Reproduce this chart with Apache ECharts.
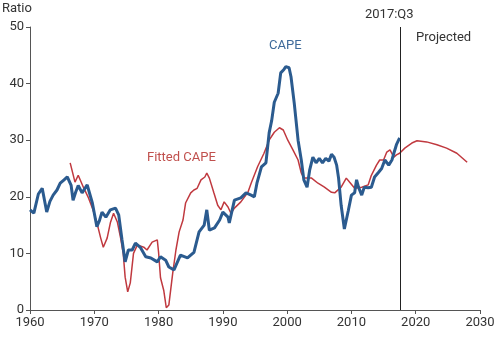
<!DOCTYPE html>
<html>
<head>
<meta charset="utf-8">
<script src="https://cdn.jsdelivr.net/npm/echarts@6/dist/echarts.min.js"></script>
<style>html,body{margin:0;padding:0;background:#fff}#c{width:500px;height:337px}</style>
</head>
<body>
<div id="c"></div>
<script>
const xTicks = [1960, 1970, 1980, 1990, 2000, 2010, 2020, 2030];
const yTicks = [0, 10, 20, 30, 40, 50];
const cutoffYear = 2017.625;

const capeYears = [1960,1960.6,1961.3,1961.9,1962.6,1963.1,1963.6,1964.2,1964.7,1965.3,1965.8,1966,1966.4,1966.7,1967.1,1967.5,1968.1,1968.9,1969.3,1969.7,1970.4,1970.8,1971.2,1971.8,1972.5,1973.3,1973.8,1974.3,1974.8,1975.3,1975.9,1976.4,1977.2,1978,1978.8,1979.8,1980.3,1981.1,1981.6,1982.4,1983.4,1984.5,1985.5,1986.3,1987.1,1987.5,1987.9,1988.7,1989.5,1990,1990.8,1991,1991.8,1992.8,1993.6,1994.4,1994.9,1995.3,1996,1996.7,1997.2,1997.6,1998,1998.6,1999,1999.5,1999.8,2000.3,2000.6,2001.1,2001.7,2002.2,2002.6,2003.1,2003.5,2004,2004.5,2005,2005.5,2006,2006.5,2006.9,2007.3,2007.7,2008,2008.4,2008.9,2009.5,2010,2010.5,2010.8,2011.1,2011.6,2012,2012.6,2013.1,2013.6,2014.2,2014.7,2015.2,2015.8,2016.3,2016.6,2017,2017.5];
const capeValues = [17.7,17.1,20.5,21.5,17.3,19.2,20.3,21.2,22.4,23.0,23.5,23.8,22.0,19.4,20.8,22.0,20.7,22.1,20.5,18.9,14.7,15.8,17.3,16.4,17.7,18.0,16.8,12.5,8.5,10.6,10.6,11.8,11.0,9.4,9.2,8.5,9.4,8.8,7.6,7.1,9.7,9.2,10.2,13.8,15.0,17.7,14.1,14.5,15.9,17.3,16.4,15.4,19.4,19.8,20.7,20.3,20.0,22.4,25.3,26.0,31.3,33.5,36.7,38.3,41.9,42.5,43.0,42.8,41.2,36.6,30.0,26.5,23.0,21.7,24.7,27.0,26.0,26.8,26.0,26.8,26.3,27.5,27.0,25.6,23.3,18.5,14.3,17.5,20.3,20.7,23.0,21.7,20.3,21.7,21.6,21.7,23.5,24.3,25.0,26.5,25.6,26.5,27.7,29.2,30.4];

const fitYears = [1966.25,1967,1967.5,1967.8,1968.3,1969.1,1969.8,1970.5,1971,1971.4,1972,1972.5,1973,1973.6,1974.1,1974.5,1974.8,1975.2,1975.6,1976.1,1976.7,1977.7,1978.2,1979,1979.8,1980,1980.3,1980.8,1981.2,1981.6,1982.2,1982.7,1983.2,1983.8,1984.2,1985,1985.5,1986,1986.6,1987.2,1987.5,1987.9,1988.6,1989.2,1989.7,1990.2,1990.8,1991.25,1991.8,1992.8,1993.9,1994.4,1995.4,1996.4,1997.2,1998,1998.8,1999.4,2000.1,2000.9,2001.7,2002.2,2002.6,2003.8,2004.8,2005.8,2006.9,2007.4,2008.4,2009.2,2009.7,2010.5,2011.6,2012.6,2013.1,2013.9,2014.4,2015,2015.5,2016,2016.6,2017,2017.5,2018.3,2019.4,2020.2,2021.7,2023.3,2024.8,2026.4,2028];
const fitValues = [26.0,22.6,23.8,23.5,21.7,19.8,17.7,15.0,12.7,11.1,12.7,15.4,17.1,15.5,12.7,10.0,5.8,3.2,4.8,10.0,11.5,11.1,10.6,12.0,12.4,10.2,5.7,3.5,0.4,0.9,6.5,10.6,13.8,15.9,18.9,20.7,21.2,21.5,23.0,23.5,24.2,23.3,20.7,18.5,17.7,19.1,18.2,17.1,18.0,19.1,20.8,22.4,25.3,27.7,30.0,31.4,32.2,31.8,30.0,28.3,26.5,24.2,23.3,23.3,22.4,21.7,20.8,20.7,21.7,23.3,22.6,21.5,21.7,22.1,23.8,25.6,26.5,26.5,27.9,28.3,27.0,27.4,27.7,28.6,29.5,29.9,29.7,29.2,28.6,27.7,26.1];

const capeData = capeYears.map((y, i) => [y, capeValues[i]]);
const fitData = fitYears.map((y, i) => [y, fitValues[i]]);

const chart = echarts.init(document.getElementById('c'), null, {renderer: 'canvas'});
const txt = '#333';
chart.setOption({
  animation: false,
  backgroundColor: '#fff',
  textStyle: {fontFamily: 'Roboto'},
  grid: {left: 30, right: 20, top: 27, bottom: 27, containLabel: false},
  xAxis: {
    type: 'value', min: 1960, max: 2030, interval: 10,
    axisLine: {show: true, lineStyle: {color: '#555', width: 1}},
    axisTick: {show: true, length: 4, lineStyle: {color: '#555'}},
    axisLabel: {color: txt, fontSize: 13, margin: 6, fontFamily: 'Roboto', formatter: v => xTicks.includes(v) ? String(v) : ''},
    splitLine: {show: false}
  },
  yAxis: {
    type: 'value', min: 0, max: 50, interval: 10,
    axisLine: {show: true, lineStyle: {color: '#555', width: 1}},
    axisTick: {show: true, length: 4, lineStyle: {color: '#555'}},
    axisLabel: {color: txt, fontSize: 13, margin: 6, fontFamily: 'Roboto', formatter: v => yTicks.includes(v) ? String(v) : ''},
    splitLine: {show: false}
  },
  graphic: [
    {type: 'text', left: 2, top: 2, style: {text: 'Ratio', fill: txt, font: '13px Roboto'}},
    {type: 'text', left: 269, top: 39, style: {text: 'CAPE', fill: '#3e6a9a', font: '13px Roboto'}},
    {type: 'text', left: 147, top: 151, style: {text: 'Fitted CAPE', fill: '#c0504d', font: '13px Roboto'}},
    {type: 'text', left: 365, top: 8, style: {text: '2017:Q3', fill: txt, font: '13px Roboto'}},
    {type: 'text', left: 416, top: 31, style: {text: 'Projected', fill: txt, font: '13px Roboto'}}
  ],
  series: [
    {
      name: 'Fitted CAPE', type: 'line', data: fitData, showSymbol: false, smooth: false,
      lineStyle: {color: '#c0393f', width: 1.5}, z: 2,
      markLine: {
        silent: true, symbol: ['none', 'none'], label: {show: false},
        lineStyle: {color: '#222', width: 1, type: 'solid'},
        data: [{xAxis: cutoffYear}]
      }
    },
    {
      name: 'CAPE', type: 'line', data: capeData, showSymbol: false, smooth: false,
      lineStyle: {color: '#2b5b8f', width: 3}, z: 3
    }
  ]
});
</script>
</body>
</html>
